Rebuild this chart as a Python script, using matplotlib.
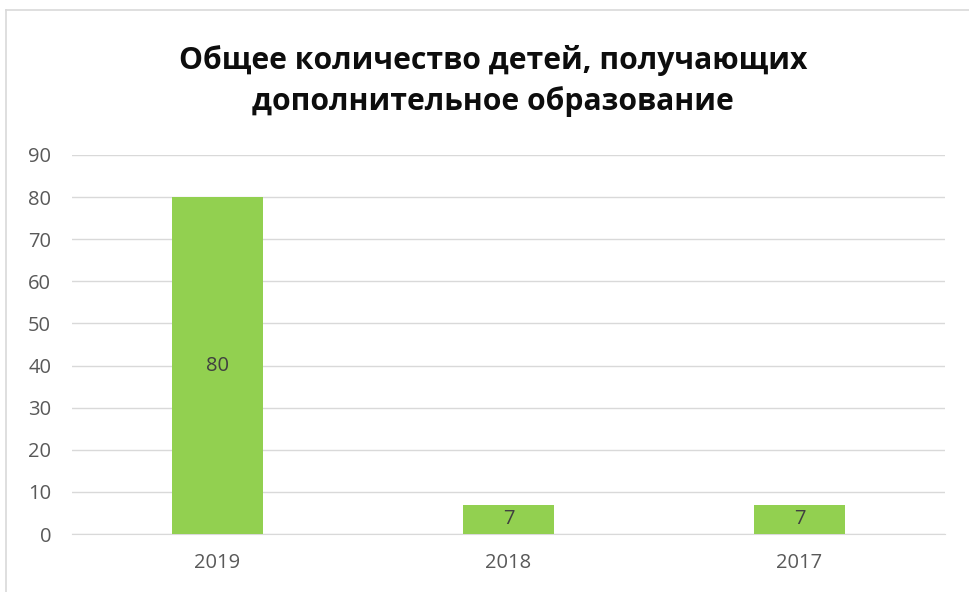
import matplotlib
matplotlib.use("Agg")
import matplotlib.pyplot as plt
from matplotlib.lines import Line2D

categories = ["2019", "2018", "2017"]
values = [80, 7, 7]
yticks = [0, 10, 20, 30, 40, 50, 60, 70, 80, 90]
title = "Общее количество детей, получающих\nдополнительное образование"

plt.rcParams['font.family'] = ['Open Sans', 'DejaVu Sans']

fig = plt.figure(figsize=(9.69, 5.92), dpi=100)
ax = fig.add_axes([72/969, 1-534/592, (945-72)/969, (534-155)/592])

x = list(range(len(categories)))
bars = ax.bar(x, values, width=0.31, color="#92d050", zorder=3)
for xi, v in zip(x, values):
    ax.text(xi, v/2, str(v), ha="center", va="center", fontsize=14.5, color="#404040", zorder=4)

ax.set_xlim(-0.5, len(categories)-0.5)
ax.set_ylim(0, 90)
ax.set_yticks(yticks)
ax.set_xticks(x)
ax.set_xticklabels(categories)
ax.grid(axis="y", color="#d9d9d9", linewidth=1, zorder=0)
for s in ["top", "right", "left"]:
    ax.spines[s].set_visible(False)
ax.spines["bottom"].set_color("#d9d9d9")
ax.tick_params(axis="both", length=0, labelsize=14.5, labelcolor="#595959")
ax.tick_params(axis="y", pad=15)
ax.tick_params(axis="x", pad=14)

fig.text(493/969, 1-81/592, title, ha="center", va="center", fontsize=21.7, fontweight="bold",
         color="#0d0d0d", linespacing=1.45)

fig.add_artist(Line2D([6/969, 1], [1-10/592, 1-10/592], color="#d9d9d9", lw=1.2, transform=fig.transFigure))
fig.add_artist(Line2D([6/969, 6/969], [0, 1-10/592], color="#d9d9d9", lw=1.2, transform=fig.transFigure))

fig.savefig("out.png", dpi=100)
